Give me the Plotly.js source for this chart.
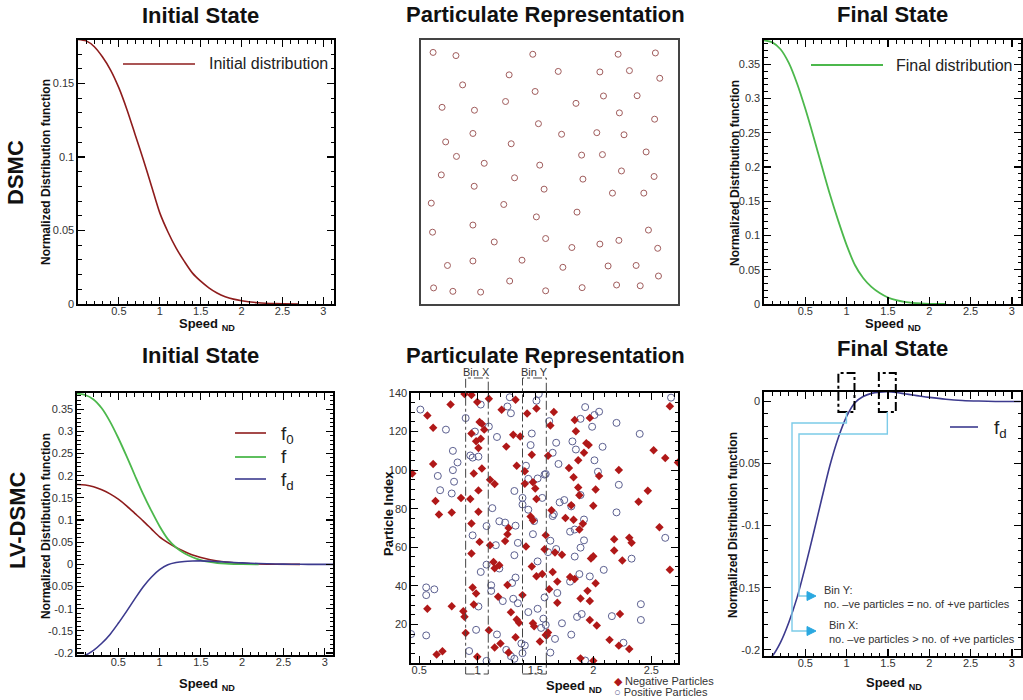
<!DOCTYPE html>
<html><head><meta charset="utf-8">
<script src="https://cdn.plot.ly/plotly-3.0.1.min.js"></script>
<style>html,body{margin:0;padding:0;background:#fff}#chart{width:1023px;height:700px}</style>
</head><body><div id="chart"></div>
<script>
// ---------------- data ----------------
const speedF0 = [0,0.1,0.2,0.3,0.4,0.5,0.6,0.7,0.8,0.9,1.0,1.1,1.2,1.3,1.4,1.5,1.6,1.7,1.8,1.9,2.0,2.2,2.4,2.7];
const f0 = [0.180,0.179,0.175,0.168,0.159,0.147,0.132,0.115,0.098,0.080,0.062,0.049,0.038,0.029,0.021,0.0155,0.011,0.0075,0.005,0.0033,0.0022,0.0009,0.0003,0];

const speedF = [0,0.1,0.2,0.3,0.4,0.5,0.6,0.7,0.8,0.9,1.0,1.1,1.2,1.3,1.4,1.5,1.6,1.7,1.8,1.9,2.0,2.2];
const fFinal = [0.385,0.382,0.372,0.352,0.322,0.285,0.244,0.201,0.159,0.121,0.086,0.057,0.038,0.025,0.016,0.0095,0.0055,0.003,0.0015,0.0007,0.0003,0];

const speedFd = [0,0.1,0.2,0.3,0.4,0.5,0.6,0.7,0.8,0.9,1.0,1.1,1.2,1.3,1.4,1.5,1.6,1.7,1.8,1.9,2.0,2.2,2.4,2.6,2.8,3.1];
const fd = [-0.21,-0.205,-0.194,-0.178,-0.158,-0.133,-0.106,-0.078,-0.051,-0.029,-0.012,-0.001,0.004,0.0065,0.0075,0.0078,0.0072,0.0062,0.0052,0.0042,0.0033,0.0018,0.0008,0.0003,0,0];

// DSMC particles (arbitrary box units 0-100)
const dsmcX = [4.7,13.6,43.5,76.7,91.2,34.3,53.4,69.6,81.1,92.9,16.2,44.4,32.9,60.3,71.0,84.1,8.2,20.8,77.2,90.9,45.7,20.2,54.7,68.4,79.0,9.6,35.1,13.8,62.5,70.6,87.6,24.6,46.2,7.9,36.4,63.0,78.0,90.7,20.7,47.9,74.5,86.7,4.0,32.2,60.7,44.9,20.2,4.5,88.5,28.5,48.5,58.7,69.6,77.0,92.1,20.2,39.3,10.3,55.2,72.8,83.7,92.4,34.5,4.9,12.4,23.2,48.5,62.7,76.1,85.3];
const dsmcY = [95.3,94.1,94.6,94.6,95.1,86.8,88.1,87.9,88.4,85.5,83.0,80.5,76.7,76.0,78.8,78.9,74.5,73.4,72.4,70.0,68.3,64.6,64.3,64.9,64.1,61.4,60.7,55.9,56.4,56.6,57.6,53.3,52.6,48.9,47.8,47.3,50.4,48.3,44.6,43.5,42.0,42.0,38.2,37.7,34.8,33.0,29.9,27.2,28.0,23.5,24.8,21.4,22.7,24.1,21.1,16.3,16.6,14.6,13.9,14.4,14.6,10.6,8.7,6.1,4.8,4.5,5.0,6.2,7.2,6.9];

// LV-DSMC particles
const negX = [0.89,0.95,1.10,1.00,0.77,1.33,1.21,1.51,0.57,1.43,0.62,1.02,1.04,1.06,0.95,1.03,0.99,1.31,1.37,1.25,1.01,1.47,0.62,1.34,1.04,0.44,0.97,1.41,1.11,1.15,1.41,1.48,1.50,1.51,1.01,0.86,0.94,0.64,0.67,0.78,1.01,0.95,1.27,1.46,1.48,
 1.66,1.84,1.63,1.97,1.85,1.94,1.96,1.92,1.87,1.61,1.79,1.83,2.22,2.05,2.52,2.62,2.73,2.66,1.87,2.02,1.88,2.47,2.39,2.00,1.81,1.64,1.76,1.83,1.91,2.57,
 0.95,1.02,1.11,1.26,1.24,1.14,1.15,1.19,0.96,0.99,1.26,1.18,0.97,1.39,1.29,1.34,1.36,1.33,1.42,1.58,1.47,1.51,1.56,1.48,1.49,1.54,1.59,0.57,0.78,0.88,0.89,0.90,1.10,1.15,1.20,0.65,0.70,1.00,1.27,
 1.59,1.67,1.73,1.88,1.98,2.00,2.18,2.18,2.25,2.31,2.33,2.66,1.65,1.69,1.62,1.80,1.84,2.02,1.95,1.89,1.97,1.69,1.97,2.03,2.23,2.14,2.22,2.31,1.61,1.60,1.89,2.00];
const negY = [139.5,139,137,135.3,134,136.5,131.3,132,128.3,129.4,122,125,124,121,119,116.3,115,118.3,117.4,112.2,111.5,108,103.2,102.3,100.8,98.3,98.3,99.4,95,92.8,92.9,93.7,90.5,85,89.5,85.6,85,84,77,78,78.4,72.3,70,76,74,
 130.1,126,123.1,127.1,120.2,114,113,109,105.1,107.5,101.1,96.3,100.1,97,110.3,106.3,104,133.1,91,90,87,89.3,83.6,81.5,81.8,79.2,75.2,74.3,72.2,70.4,
 56.8,62.8,61.1,66.7,63.2,52.4,49.1,50.7,39.2,36,40.4,34.3,30.3,35.2,26.3,22.6,20.9,13.3,60.4,59,50,45,46.1,20.6,19,11.2,14.5,28.1,29.4,26.8,24,15.6,17,8,10.1,4.4,6.1,3.2,5.4,
 66.3,57.3,56.1,69.2,54.2,55.4,64.2,58.3,53.1,65,62.4,48.4,47.2,42.2,38.2,44.6,43.6,41.3,37.4,33.4,32.2,31.2,22.3,19.4,25.4,12,9,7.3,15.8,14.4,2.4,1.2];
const posX = [0.51,0.90,1.03,1.28,1.26,1.29,1.51,1.53,0.73,0.98,1.10,1.17,1.47,1.46,0.79,0.94,0.96,1.01,0.83,0.79,0.80,0.66,0.68,0.78,1.42,1.44,1.52,1.56,1.58,1.32,1.39,1.39,1.44,1.13,1.08,1.19,1.24,1.33,1.49,
 2.67,1.93,2.01,2.05,1.89,1.99,2.20,2.40,1.62,1.68,1.82,1.85,2.08,1.65,1.70,2.01,1.59,2.04,2.22,1.89,1.71,1.75,1.81,2.20,1.66,1.65,1.92,
 0.96,1.16,1.35,1.32,1.48,1.52,1.03,1.08,1.19,1.33,1.30,1.12,1.12,0.56,0.56,0.63,1.01,1.22,1.31,1.35,1.44,1.52,1.57,1.59,1.55,0.99,1.17,1.38,1.41,0.43,0.56,0.93,1.08,1.25,1.29,1.32,1.39,1.58,
 1.80,1.84,1.63,1.68,1.61,1.92,1.89,1.84,2.62,2.33,1.88,1.80,1.97,2.09,1.69,1.86,1.90,2.16,2.41,2.41,1.73,1.81,1.67,2.26,1.63,1.93];
const posY = [131.4,127,134,137.8,133,129.5,136,139.5,121,120,122.6,117.2,119,113,110,107.6,106.5,107,104,100,94,97,89.6,87.9,102.3,95.5,95.7,85.6,97.7,89.2,85.6,82.2,79.5,80.3,71,73.5,72.8,71.2,73.6,
 137.6,132.7,128.6,130.3,126.6,122.5,124.5,118.8,125.4,114.2,114.9,110.7,112.1,109,103.2,105.1,98,99.2,92.4,87.1,83.3,84.5,81.2,78.1,77.2,76.2,74.4,
 66.2,61.1,62.3,55.9,66.8,52.7,47.2,51,49,44.3,41.5,40.3,37.4,39.2,35.2,38.2,29.3,32.1,33.3,31,26.4,28.1,23,19.7,18.2,17.2,14.8,10.1,9.1,15,14.3,6.2,1.1,6.8,3.5,2.2,5.1,34,
 68.1,69.2,63.4,59.1,57.5,63.6,59.8,55.2,64.9,54.1,46.1,42.2,44.9,48.3,36.3,23.9,25.4,24.3,30.5,22.3,20.6,14.7,12.5,10.5,5.4,1.3];

const binLabels = ['Bin X','Bin Y'];
const binLo = [0.90,1.39];
const binHi = [1.095,1.595];

// ---------------- layout helpers ----------------
const W = 1023, H = 700;
const PX = v => v / W, PY = v => 1 - v / H;
const FONT = 'Liberation Sans, Arial, sans-serif';
const panels = {
  p1:{x:[78,334], y:[40,304], xr:[0,3.13], yr:[0,0.1796]},
  p2:{x:[421,678], y:[40,304], xr:[0,100], yr:[0,100]},
  p3:{x:[764,1021], y:[40,304], xr:[0,3.11], yr:[0,0.3855]},
  p4:{x:[77,333], y:[393,655], xr:[0,3.1], yr:[-0.2045,0.3865]},
  p5:{x:[411,678], y:[393,663], xr:[0.429,2.73], yr:[0,140]},
  p6:{x:[764,1021], y:[392,656], xr:[0,3.11], yr:[-0.205,0.0076]}
};
const dataToPageX = (p, v) => p.x[0] + (v - p.xr[0]) / (p.xr[1] - p.xr[0]) * (p.x[1] - p.x[0]);

function axis(p, isX, tickvals, minorD, anchor) {
  const o = {
    domain: isX ? [PX(p.x[0]), PX(p.x[1])] : [PY(p.y[1]), PY(p.y[0])],
    range: isX ? p.xr : p.yr,
    anchor: anchor,
    showgrid: false, zeroline: false,
    showline: true, linecolor: '#000', linewidth: 1.6, mirror: 'ticks',
    ticks: 'inside', ticklen: 7, tickwidth: 1.2, tickcolor: '#000',
    tickmode: 'array', tickvals: tickvals, ticktext: tickvals.map(v => String(v)),
    tickfont: {family: FONT, size: 11, color: '#333'},
    minor: {ticks: 'inside', ticklen: 3.5, tickwidth: 1, tickcolor: '#000', dtick: minorD, tick0: 0},
    fixedrange: true
  };
  if (isX) o.ticklabelstandoff = -4;
  return o;
}

const xt = [0.5,1,1.5,2,2.5,3];
const L = {
  width: W, height: H, margin: {l:0,r:0,t:0,b:0},
  paper_bgcolor: '#fff', plot_bgcolor: '#fff', showlegend: false,
  font: {family: FONT},
  xaxis:  axis(panels.p1, true, xt, 0.1, 'y'),
  yaxis:  axis(panels.p1, false, [0,0.05,0.1,0.15], 0.01, 'x'),
  xaxis2: Object.assign(axis(panels.p2, true, [], 10, 'y2'), {ticks:'', minor:{ticks:''}, showticklabels:false, linecolor:'#444', linewidth:2, mirror:true}),
  yaxis2: Object.assign(axis(panels.p2, false, [], 10, 'x2'), {ticks:'', minor:{ticks:''}, showticklabels:false, linecolor:'#444', linewidth:2, mirror:true}),
  xaxis3: axis(panels.p3, true, xt, 0.1, 'y3'),
  yaxis3: axis(panels.p3, false, [0,0.05,0.1,0.15,0.2,0.25,0.3,0.35], 0.01, 'x3'),
  xaxis4: axis(panels.p4, true, xt, 0.1, 'y4'),
  yaxis4: axis(panels.p4, false, [-0.2,-0.15,-0.1,-0.05,0,0.05,0.1,0.15,0.2,0.25,0.3,0.35], 0.01, 'x4'),
  xaxis5: axis(panels.p5, true, [0.5,1,1.5,2,2.5], 0.1, 'y5'),
  yaxis5: axis(panels.p5, false, [20,40,60,80,100,120,140], 5, 'x5'),
  xaxis6: axis(panels.p6, true, xt, 0.1, 'y6'),
  yaxis6: axis(panels.p6, false, [-0.2,-0.15,-0.1,-0.05,0], 0.01, 'x6'),
  annotations: [], shapes: []
};

function text(t, x, y, size, opts) {
  L.annotations.push(Object.assign({
    text: t, x: PX(x), y: PY(y), xref: 'paper', yref: 'paper', showarrow: false,
    xanchor: 'center', yanchor: 'middle', font: {family: FONT, size: size, color: '#111'}
  }, opts || {}));
}
function seg(x0, y0, x1, y1, color, width, dash) {
  L.shapes.push({type:'line', xref:'paper', yref:'paper', x0:PX(x0), y0:PY(y0), x1:PX(x1), y1:PY(y1),
    line:{color:color, width:width, dash:dash || 'solid'}});
}

// titles
text('<b>Initial State</b>', 200, 15, 22);
text('<b>Particulate Representation</b>', 545, 14, 22);
text('<b>Final State</b>', 892, 14, 22);
text('<b>Initial State</b>', 200, 355, 22);
text('<b>Particulate Representation</b>', 545, 355, 22);
text('<b>Final State</b>', 892, 348, 22);
text('<b>DSMC</b>', 16, 173, 22, {textangle: -90});
text('<b>LV-DSMC</b>', 17, 521, 22, {textangle: -90});

// axis titles
const spd = '<b>Speed</b> <sub><b>ND</b></sub>';
text(spd, 207, 324, 13);
text(spd, 893, 324, 13);
text(spd, 207, 684, 13);
text(spd, 574, 686, 13);
text(spd, 894, 683, 13);
const ndf = '<b>Normalized Distribution function</b>';
text(ndf, 46, 172, 12, {textangle: -90});
text(ndf, 735, 173, 12, {textangle: -90});
text(ndf, 46, 526, 12, {textangle: -90});
text(ndf, 733, 525, 12, {textangle: -90});
text('<b>Particle Index</b>', 388, 514, 13, {textangle: -90});

// legends
const RED = '#8e1c1c', GREEN = '#4cb84c', BLUE = '#3c3a8e';
seg(123, 64, 195, 64, RED, 1.6);
text('Initial distribution', 207, 64, 16, {xanchor:'left', font:{family:FONT, size:16, color:'#222'}});
seg(811, 65, 883, 65, GREEN, 1.8);
text('Final distribution', 894, 65, 16, {xanchor:'left', font:{family:FONT, size:16, color:'#222'}});
seg(235, 433, 266, 433, RED, 1.6);
seg(235, 457, 266, 457, GREEN, 1.8);
seg(235, 479, 266, 479, BLUE, 1.6);
text('f<sub>0</sub>', 279, 435, 19, {xanchor:'left', font:{family:FONT, size:19, color:'#222'}});
text('f', 279, 457, 19, {xanchor:'left', font:{family:FONT, size:19, color:'#222'}});
text('f<sub>d</sub>', 279, 481, 19, {xanchor:'left', font:{family:FONT, size:19, color:'#222'}});
seg(950, 427, 978, 427, BLUE, 1.6);
text('f<sub>d</sub>', 992, 429, 19, {xanchor:'left', font:{family:FONT, size:19, color:'#222'}});

// particle legend
const NEG = '#b01818', POS = '#5c6090';
text('<span style="color:' + NEG + '">◆</span> Negative Particles', 612, 681, 11, {xanchor:'left', font:{family:FONT, size:11, color:'#333'}});
text('<span style="color:' + POS + '">○</span> Positive Particles', 612, 692, 11, {xanchor:'left', font:{family:FONT, size:11, color:'#333'}});

// bins in particulate panel
binLabels.forEach((lab, i) => {
  const a = dataToPageX(panels.p5, binLo[i]), b = dataToPageX(panels.p5, binHi[i]);
  L.shapes.push({type:'rect', xref:'paper', yref:'paper', x0:PX(a), x1:PX(b), y0:PY(674), y1:PY(378),
    line:{color:'#444', width:1, dash:'dashdot'}});
  text(lab, (a + b) / 2, 372, 11, {font:{family:FONT, size:11, color:'#333'}});
});

// bins in final-state panel, with connectors
const CY = '#7ccbe8', CYA = '#2aa8e0';
const levelH = [423, 434], levelV = [792, 799], arrowY = [631, 596];
binLabels.forEach((lab, i) => {
  const a = dataToPageX(panels.p6, binLo[i]), b = dataToPageX(panels.p6, binHi[i]);
  L.shapes.push({type:'rect', xref:'paper', yref:'paper', x0:PX(a), x1:PX(b), y0:PY(412), y1:PY(373),
    line:{color:'#000', width:2, dash:'dashdot'}});
  const c = (a + b) / 2;
  const path = 'M' + PX(c) + ',' + PY(412) + ' L' + PX(c) + ',' + PY(levelH[i]) + ' L' + PX(levelV[i]) + ',' + PY(levelH[i]) +
    ' L' + PX(levelV[i]) + ',' + PY(arrowY[i]) + ' L' + PX(809) + ',' + PY(arrowY[i]);
  L.shapes.push({type:'path', xref:'paper', yref:'paper', path: path, line:{color:CY, width:1.4}});
  const tri = 'M' + PX(807) + ',' + PY(arrowY[i] - 4.5) + ' L' + PX(816) + ',' + PY(arrowY[i]) + ' L' + PX(807) + ',' + PY(arrowY[i] + 4.5) + ' Z';
  L.shapes.push({type:'path', xref:'paper', yref:'paper', path: tri, fillcolor: CYA, line:{color:CYA, width:1}});
});
const NOTE = {family: FONT, size: 11, color: '#333'};
text('Bin Y:', 822, 590, 11, {xanchor:'left', font:NOTE});
text('no. \u2013ve particles = no. of +ve particles', 822, 604, 11, {xanchor:'left', font:NOTE});
text('Bin X:', 827, 625, 11, {xanchor:'left', font:NOTE});
text('no. \u2013ve particles > no. of +ve particles', 827, 639, 11, {xanchor:'left', font:NOTE});

// ---------------- traces ----------------
const ln = (x, y, c, xa, ya, w) => ({type:'scatter', mode:'lines', x:x, y:y, xaxis:xa, yaxis:ya,
  line:{color:c, width:w || 1.6, shape:'spline', smoothing:0.8}, hoverinfo:'skip'});
const traces = [
  ln(speedF0, f0, RED, 'x', 'y'),
  {type:'scatter', mode:'markers', x:dsmcX, y:dsmcY, xaxis:'x2', yaxis:'y2',
   marker:{symbol:'circle-open', size:6, color:'#a05c5c', line:{width:1}}, hoverinfo:'skip'},
  ln(speedF, fFinal, GREEN, 'x3', 'y3', 1.8),
  ln(speedF0, f0, RED, 'x4', 'y4'),
  ln(speedF, fFinal, GREEN, 'x4', 'y4', 1.8),
  ln(speedFd, fd, BLUE, 'x4', 'y4'),
  {type:'scatter', mode:'markers', x:posX, y:posY, xaxis:'x5', yaxis:'y5', name:'Positive Particles',
   marker:{symbol:'circle-open', size:7, color:POS, line:{width:1}}, hoverinfo:'skip'},
  {type:'scatter', mode:'markers', x:negX, y:negY, xaxis:'x5', yaxis:'y5', name:'Negative Particles',
   marker:{symbol:'diamond', size:6.5, color:NEG}, hoverinfo:'skip'},
  ln(speedFd, fd, BLUE, 'x6', 'y6')
];

Plotly.newPlot('chart', traces, L, {staticPlot: true});
</script>
</body></html>
